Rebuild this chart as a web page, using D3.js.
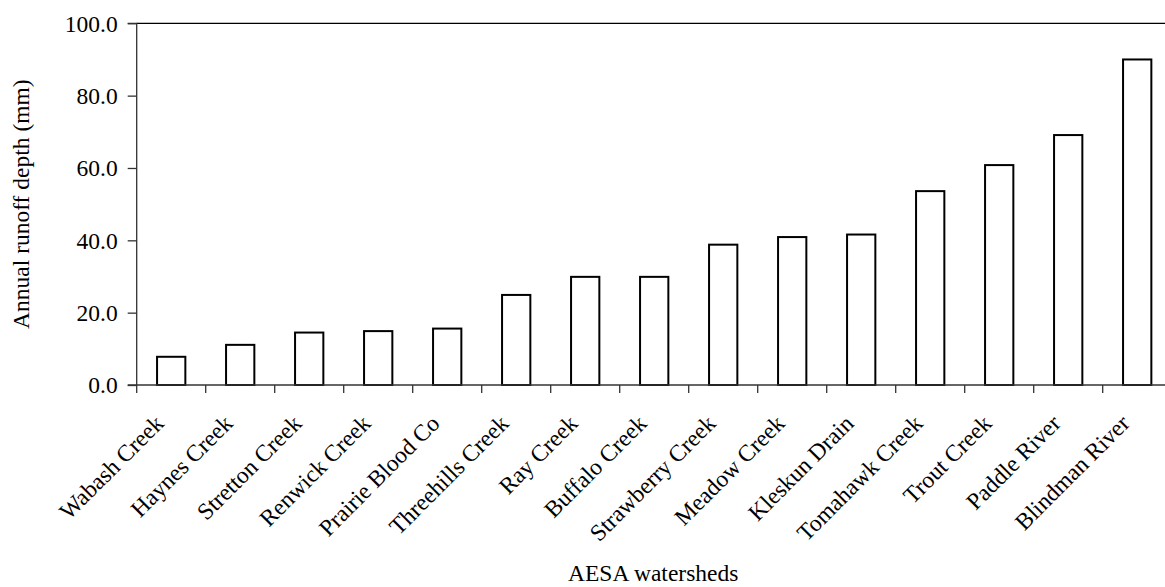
<!DOCTYPE html>
<html>
<head>
<meta charset="utf-8">
<script src="https://cdn.jsdelivr.net/npm/d3@7"></script>
<style>
  html, body { margin: 0; padding: 0; background: #fff; }
  svg { display: block; }
</style>
</head>
<body>
<svg id="chart" width="1165" height="587"></svg>
<script>
const categories = ["Wabash Creek", "Haynes Creek", "Stretton Creek", "Renwick Creek", "Prairie Blood Co",
  "Threehills Creek", "Ray Creek", "Buffalo Creek", "Strawberry Creek", "Meadow Creek",
  "Kleskun Drain", "Tomahawk Creek", "Trout Creek", "Paddle River", "Blindman River"];
const runoff = [7.8, 11.1, 14.5, 14.9, 15.6, 24.9, 29.9, 29.9, 38.8, 40.9, 41.6, 53.6, 60.8, 69.1, 90.0];
const yTicks = [0, 20, 40, 60, 80, 100];
const yTitle = "Annual runoff depth (mm)";
const xTitle = "AESA watersheds";

const FONT = "'Liberation Serif', 'Times New Roman', Times, serif";
const svg = d3.select("#chart");
const pLeft = 136.7, pRight = 1171.7, pTop = 23.3, pBottom = 385;
const fontSize = 23.5;

const x = d3.scaleBand().domain(categories).range([pLeft, pRight]).paddingInner(0.59).paddingOuter(0.295);
const y = d3.scaleLinear().domain([0, 100]).range([pBottom, pTop]);

// plot border top line (frame)
svg.append("line").attr("x1", pLeft).attr("x2", pRight).attr("y1", pTop).attr("y2", pTop)
  .attr("stroke", "#000").attr("stroke-width", 1.2);

// bars
svg.append("g").selectAll("rect").data(categories).join("rect")
  .attr("x", d => x(d))
  .attr("width", x.bandwidth())
  .attr("y", (d, i) => y(runoff[i]))
  .attr("height", (d, i) => y(0) - y(runoff[i]))
  .attr("fill", "#fff").attr("stroke", "#000").attr("stroke-width", 2);

// y axis
const yAxis = svg.append("g").attr("transform", `translate(${pLeft},0)`)
  .call(d3.axisLeft(y).tickValues(yTicks).tickFormat(d3.format(".1f")).tickSize(9).tickPadding(10));
yAxis.attr("font-family", null).attr("font-size", null);
yAxis.selectAll("path, line").attr("stroke", "#333").attr("stroke-width", 1.3);
yAxis.select(".domain").attr("d", `M-9,${pTop}H0V${pBottom}H-9`);
yAxis.selectAll("text").style("font-family", FONT).style("font-size", fontSize + "px").attr("dy", "0.33em").attr("fill", "#000");

// x axis with ticks at category boundaries
const step = x.step();
const boundaries = d3.range(categories.length + 1).map(i => pLeft + i * step);
const xg = svg.append("g");
xg.append("line").attr("x1", pLeft).attr("x2", pRight).attr("y1", pBottom).attr("y2", pBottom)
  .attr("stroke", "#333").attr("stroke-width", 1.5);
xg.selectAll("line.tick").data(boundaries).join("line").attr("class", "tick")
  .attr("x1", d => d).attr("x2", d => d).attr("y1", pBottom).attr("y2", pBottom + 8)
  .attr("stroke", "#333").attr("stroke-width", 1.3);

xg.selectAll("text.lab").data(categories).join("text").attr("class", "lab")
  .attr("transform", d => `translate(${x(d) + x.bandwidth() / 2 - 12},${pBottom + 34}) rotate(-45)`)
  .attr("text-anchor", "end")
  .attr("dy", "0.35em")
  .style("font-family", FONT).style("font-size", fontSize + "px")
  .text(d => d);

// titles
svg.append("text")
  .attr("transform", `translate(29,${(pTop + pBottom) / 2}) rotate(-90)`)
  .attr("text-anchor", "middle")
  .style("font-family", FONT).style("font-size", fontSize + "px")
  .text(yTitle);

svg.append("text")
  .attr("x", (pLeft + pRight) / 2 - 1)
  .attr("y", 581)
  .attr("text-anchor", "middle")
  .style("font-family", FONT).style("font-size", fontSize + "px")
  .text(xTitle);
</script>
</body>
</html>
